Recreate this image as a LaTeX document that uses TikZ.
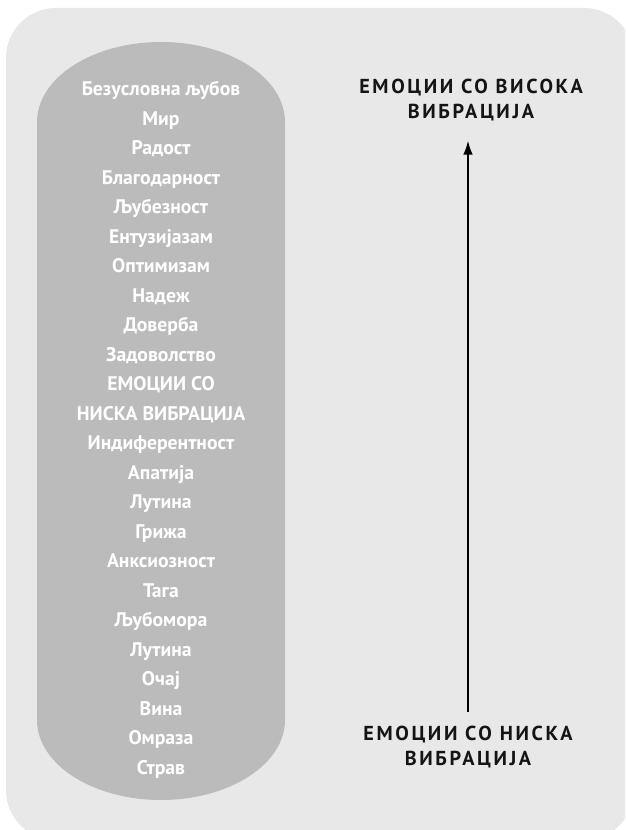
\documentclass[tikz,border=0pt]{standalone}
\usepackage{fontspec}
\setmainfont{PT Sans}
\newfontfamily\headfont[LetterSpace=13]{PT Sans}
\usetikzlibrary{arrows.meta}
\definecolor{panelgray}{HTML}{E8E8E8}
\definecolor{pillgray}{HTML}{BBBBBB}
\tikzset{
  emotion/.style={text=white,inner sep=0pt,anchor=base,font=\bfseries\fontsize{11.2}{13}\selectfont},
  heading/.style={align=center,inner sep=0pt,text=black!92,font=\headfont\bfseries\fontsize{11.5}{14.2}\selectfont}
}
\begin{document}
\begin{tikzpicture}[x=0.02cm,y=-0.02cm,>={Latex[length=8pt,width=5.5pt]}]
\useasboundingbox (0,0) rectangle (625,830);
\fill[white] (0,0) rectangle (625,830);
\begin{scope}
  \clip (0,0) rectangle (625,830);
  \fill[panelgray,rounded corners=1cm] (6,8) rectangle (634,840);
\end{scope}
\fill[pillgray] (37,122) arc[start angle=180,end angle=360,x radius=124,y radius=80]
  -- (285,720) arc[start angle=0,end angle=180,x radius=124,y radius=80] -- cycle;

% list of emotions
\foreach \t [count=\i from 0] in {Безусловна љубов,Мир,Радост,Благодарност,Љубезност,Ентузијазам,Оптимизам,Надеж,Доверба,Задоволство,ЕМОЦИИ СО,НИСКА ВИБРАЦИЈА,Индиферентност,Апатија,Лутина,Грижа,Анксиозност,Тага,Љубомора,Лутина,Очај,Вина,Омраза,Страв}
{
    \node[emotion] (e\i) at (161,{96+29.48*\i}) {\t};
}

\node[heading] (high) at (471,100) {ЕМОЦИИ СО ВИСОКА\\ВИБРАЦИЈА};
\node[heading] (low) at (468,747) {ЕМОЦИИ СО НИСКА\\ВИБРАЦИЈА};
\draw[->,line width=1pt,shorten <=8pt,shorten >=11pt] (low.north) -- (low.north |- high.south);
\end{tikzpicture}
\end{document}
